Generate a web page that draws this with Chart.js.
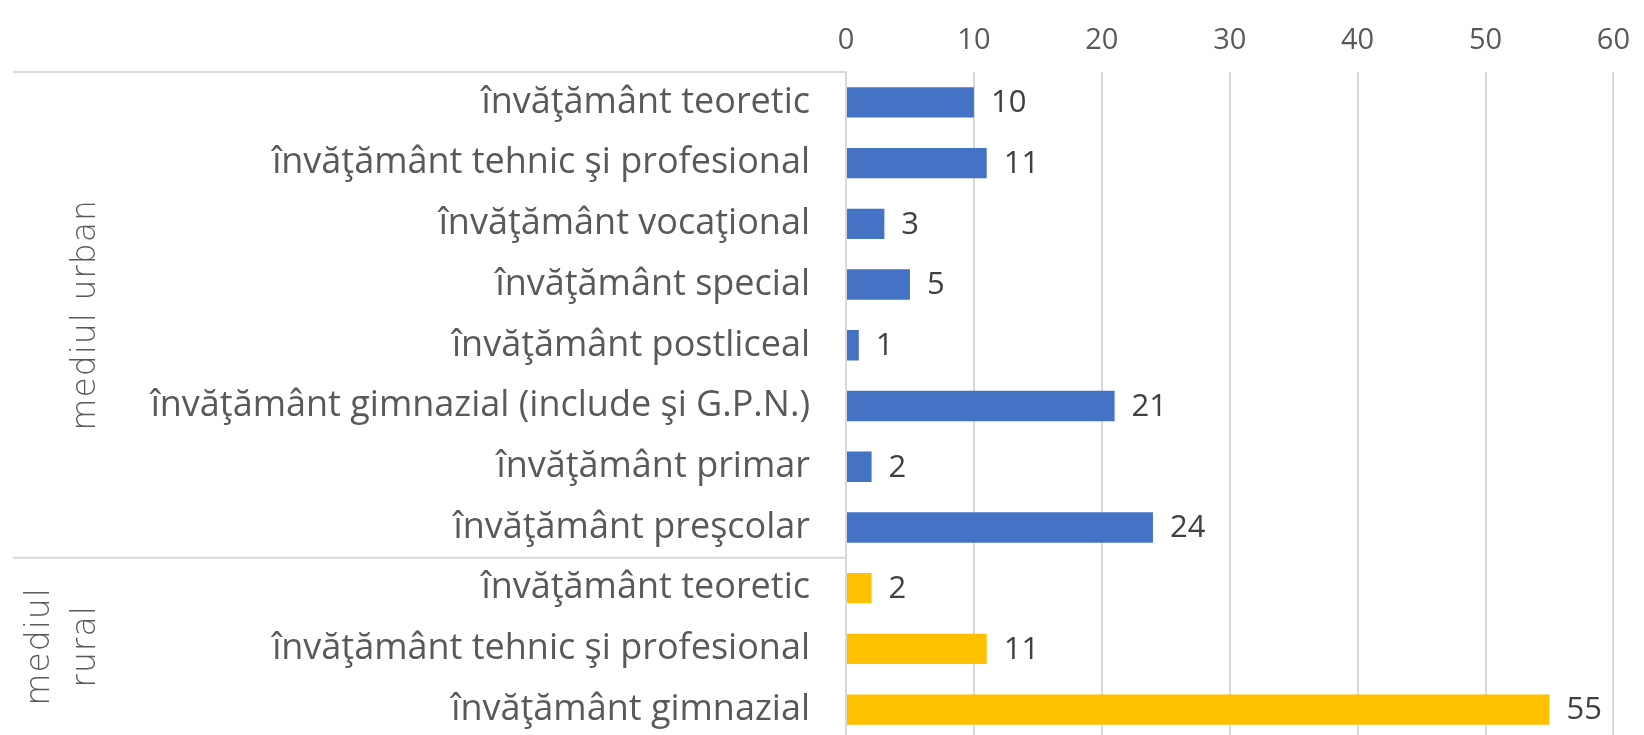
<!DOCTYPE html>
<html>
<head>
<meta charset="utf-8">
<script src="https://cdn.jsdelivr.net/npm/chart.js@4/dist/chart.umd.min.js"></script>
<style>
  html, body { margin: 0; padding: 0; background: #fff; overflow: hidden; height: 735px; }
  canvas { display: block; }
</style>
</head>
<body>
<canvas id="myChart" width="1644" height="740"></canvas>
<script>
// categorii (de sus in jos)
const categories = [
    'învăţământ teoretic',
    'învăţământ tehnic şi profesional',
    'învăţământ vocaţional',
    'învăţământ special',
    'învăţământ postliceal',
    'învăţământ gimnazial (include şi G.P.N.)',
    'învăţământ primar',
    'învăţământ preşcolar',
    'învăţământ teoretic',
    'învăţământ tehnic şi profesional',
    'învăţământ gimnazial'
];
const values = [10, 11, 3, 5, 1, 21, 2, 24, 2, 11, 55];
// grupa fiecarei categorii
const groups = ['urban', 'urban', 'urban', 'urban', 'urban', 'urban', 'urban', 'urban', 'rural', 'rural', 'rural'];
const groupLabels = { urban: ['mediul urban'], rural: ['mediul', 'rural'] };
const xTicks = [0, 10, 20, 30, 40, 50, 60];

const colors = { urban: '#4472C4', rural: '#FFC000' };
const FONT = '"Open Sans"';

// etichete de valoare la capatul barelor
const valueLabels = {
    id: 'valueLabels',
    afterDatasetsDraw(chart) {
        const ctx = chart.ctx;
        const meta = chart.getDatasetMeta(0);
        ctx.save();
        ctx.font = '31px ' + FONT;
        ctx.fillStyle = '#404040';
        ctx.textAlign = 'left';
        ctx.textBaseline = 'middle';
        meta.data.forEach((bar, i) => {
            ctx.fillText(values[i], bar.x + 17, bar.y + 1);
        });
        ctx.restore();
    }
};

// linii de separare si etichete de grupa
const groupAxis = {
    id: 'groupAxis',
    afterDraw(chart) {
        const ctx = chart.ctx;
        const y = chart.scales.y;
        const left = 13;
        const right = chart.chartArea.left;
        const half = (y.getPixelForValue(1) - y.getPixelForValue(0)) / 2;
        ctx.save();
        ctx.strokeStyle = '#D9D9D9';
        ctx.lineWidth = 2;
        let start = 0;
        for (let i = 1; i <= groups.length; i++) {
            if (i === groups.length || groups[i] !== groups[start]) {
                const top = y.getPixelForValue(start) - half;
                const bottom = Math.min(y.getPixelForValue(i - 1) + half, 735);
                ctx.beginPath();
                ctx.moveTo(left, top);
                ctx.lineTo(right, top);
                ctx.stroke();
                // eticheta rotita
                const lines = groupLabels[groups[start]];
                const cy = (top + bottom) / 2;
                ctx.save();
                ctx.fillStyle = '#595959';
                ctx.font = '200 33px "DejaVu Sans"';
                ctx.letterSpacing = '1px';
                ctx.textAlign = 'center';
                ctx.textBaseline = 'middle';
                const lh = 46;
                const x0 = 86 - (lines.length - 1) * lh;
                lines.forEach((t, k) => {
                    ctx.save();
                    ctx.translate(x0 + k * lh, cy);
                    ctx.rotate(-Math.PI / 2);
                    ctx.fillText(t, 0, 0);
                    ctx.restore();
                });
                ctx.restore();
                start = i;
            }
        }
        ctx.restore();
    }
};

const ctx = document.getElementById('myChart').getContext('2d');
const myChart = new Chart(ctx, {
    type: 'bar',
    data: {
        labels: categories,
        datasets: [{
            label: 'valoare',
            data: values,
            backgroundColor: groups.map(g => colors[g]),
            borderWidth: 0,
            barPercentage: 0.5,
            categoryPercentage: 1
        }]
    },
    options: {
        indexAxis: 'y',
        responsive: false,
        animation: false,
        layout: { padding: { left: 0, right: 24, top: 0, bottom: 0 } },
        plugins: {
            legend: { display: false },
            tooltip: { enabled: false }
        },
        scales: {
            x: {
                position: 'top',
                min: 0,
                max: 60,
                afterBuildTicks(scale) {
                    scale.ticks = xTicks.map(v => ({ value: v }));
                },
                afterFit(scale) { scale.height = 72; },
                grid: { color: '#D9D9D9', lineWidth: 2, drawTicks: false },
                border: { display: false },
                ticks: {
                    color: '#595959',
                    font: { family: FONT, size: 29 },
                    padding: 14
                }
            },
            y: {
                afterFit(scale) {
                    scale.width = 846;
                    scale.paddingTop = 0;
                    scale.paddingBottom = 0;
                },
                grid: { display: false, drawTicks: false },
                border: { display: true, color: '#D9D9D9', width: 2 },
                ticks: {
                    color: '#595959',
                    font: { family: FONT, size: 36 },
                    padding: 36,
                    autoSkip: false
                }
            }
        }
    },
    plugins: [valueLabels, groupAxis]
});
</script>
</body>
</html>
